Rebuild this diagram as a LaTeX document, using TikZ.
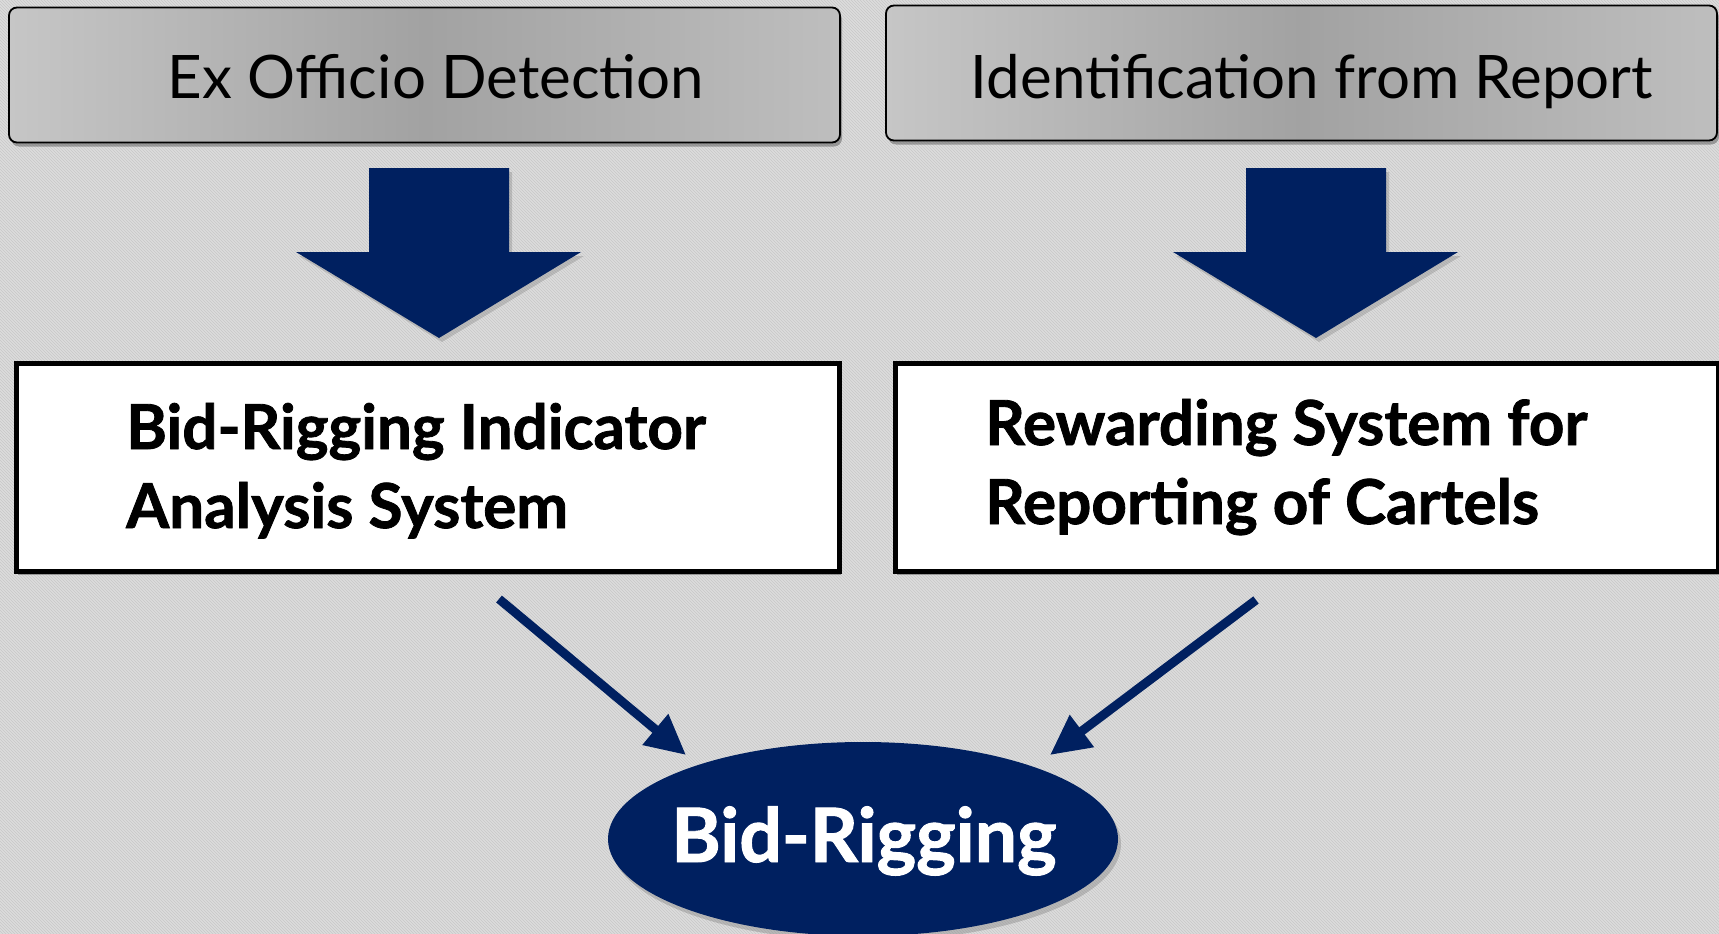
\documentclass[tikz,border=0pt]{standalone}
\usepackage{fontspec}
\setmainfont{Lato}
\newfontfamily\heavy[FakeBold=1.3]{Lato Bold}
\usetikzlibrary{shapes.geometric,arrows.meta,shadows,patterns}
\definecolor{navy}{HTML}{002060}
\definecolor{bgc}{HTML}{DCDCDC}
\definecolor{hatch}{HTML}{C8C8C8}
\definecolor{gl}{HTML}{C6C6C6}
\definecolor{gm}{HTML}{A2A2A2}
\definecolor{gr}{HTML}{BEBEBE}
\begin{document}
\begin{tikzpicture}[x=1pt,y=-1pt,
  shadowed/.style={drop shadow={shadow xshift=2pt,shadow yshift=-4pt,opacity=0.45,fill=black!70}},
  topbox/.style={draw=black,line width=1.8pt,rounded corners=8pt,
    left color=gl,right color=gr,middle color=gm,
    minimum width=831pt,minimum height=135pt,inner sep=0pt,shadowed},
  midbox/.style={draw=black,line width=5pt,fill=white,
    minimum width=823pt,minimum height=208pt,inner sep=0pt,shadowed},
  toptext/.style={font=\fontsize{60}{70}\selectfont,text=black,inner sep=0pt},
  midtext/.style={font=\heavy\fontsize{62}{79}\selectfont,text=black,inner sep=0pt,align=left},
  blockarrow/.style={fill=navy,draw=none,drop shadow={shadow xshift=3pt,shadow yshift=-4pt,opacity=0.35}},
  thinarrow/.style={draw=navy,line width=9pt,-{Triangle[length=40pt,width=38pt]}},
  goal/.style={ellipse,fill=navy,minimum width=510pt,minimum height=194pt,inner sep=0pt,
    drop shadow={shadow xshift=3pt,shadow yshift=-5pt,opacity=0.4}}
]
\useasboundingbox (0,0) rectangle (1719,934);
\fill[bgc] (0,0) rectangle (1719,934);
\fill[pattern=north west lines,pattern color=hatch] (0,0) rectangle (1719,934);

% top boxes
\node[topbox] (tl) at (424.5,75) {};
\node[toptext,anchor=base] (tlt) at (436,99) {Ex Officio Detection};
\node[topbox] (tr) at (1301.5,73) {};
\node[toptext,anchor=base] (trt) at (1312,99) {Identification from Report};

% block arrows
\path[blockarrow] (369,168) -- (509,168) -- (509,252) -- (581,252) -- (439,338) -- (296,252) -- (369,252) -- cycle;
\path[blockarrow] (1246,168) -- (1386,168) -- (1386,252) -- (1458,252) -- (1316,338) -- (1173,252) -- (1246,252) -- cycle;

% middle boxes
\node[midbox] (ml) at (427.5,467) {};
\node[midtext,anchor=base west] (mlt) at (126,528) {Bid-Rigging Indicator\\Analysis System};
\node[midbox] (mr) at (1306.5,467) {};
\node[midtext,anchor=base west] (mrt) at (985,524) {Rewarding System for\\Reporting of Cartels};

% goal
\node[goal] (goal) at (863,839) {};
\node[font=\heavy\fontsize{75}{80}\selectfont,text=white,anchor=base,inner sep=0pt] (goalt) at (864,862) {Bid-Rigging};

% thin arrows
\coordinate (la) at (499,599);
\coordinate (lb) at (686,755);
\coordinate (ra) at (1256,600);
\coordinate (rb) at (1050,755);
\draw[thinarrow] (la) -- (lb);
\draw[thinarrow] (ra) -- (rb);
\end{tikzpicture}
\end{document}
